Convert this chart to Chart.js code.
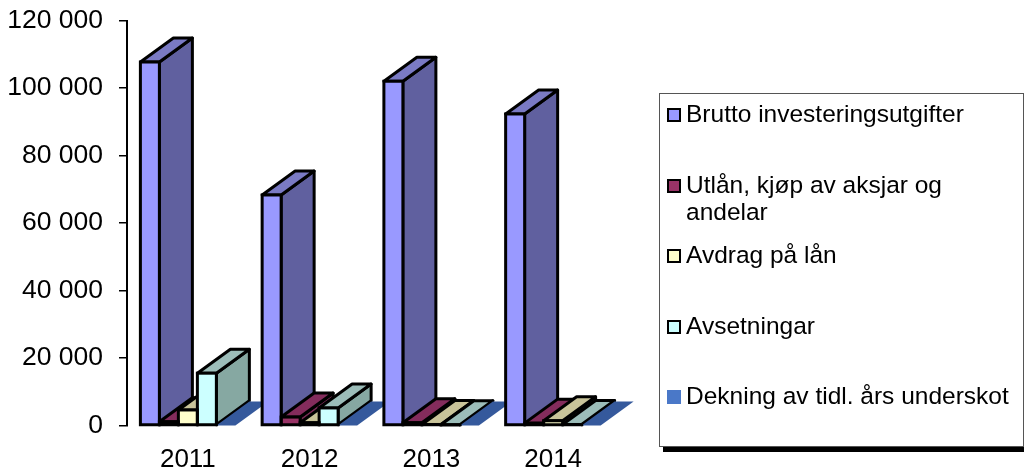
<!DOCTYPE html>
<html>
<head>
<meta charset="utf-8">
<title>Investeringar 2011-2014</title>
<script src="https://cdn.jsdelivr.net/npm/chart.js@4"></script>
<style>
  body { margin: 0; background: #fff; }
  canvas { display: block; }
</style>
</head>
<body>
<canvas id="investChart" width="1024" height="471"></canvas>
<script>
const years = ['2011', '2012', '2013', '2014'];
const brutto = [107700, 68300, 102000, 92300];
const utlan = [1100, 2500, 800, 700];
const avdrag = [4600, 800, 300, 1400];
const avsetningar = [15500, 5200, 200, 300];
const dekning = [0, 0, 0, 0];

const seriesNames = [
  ['Brutto investeringsutgifter'],
  ['Utlån, kjøp av aksjar og', 'andelar'],
  ['Avdrag på lån'],
  ['Avsetningar'],
  ['Dekning av tidl. års underskot']
];
const frontColors = ['#9999ff', '#993366', '#ffffcc', '#ccffff', '#4a78c8'];
const sideColors = ['#60609f', '#7a2a55', '#b5b08a', '#86a8a2', '#35599c'];
const topColors = ['#7a7ac4', '#842c5c', '#c9c49a', '#9cbdb9', '#35599c'];

// Depth of the fake 3D bars, in pixels
const depthX = 33;
const depthY = 24;

// Sides and tops go under the bars the library draws, left to right
const bars3d = {
  id: 'bars3d',
  beforeDatasetsDraw(chart) {
    const ctx = chart.ctx;
    ctx.save();
    ctx.lineJoin = 'round';
    years.forEach((year, i) => {
      chart.data.datasets.forEach((ds, d) => {
        const bar = chart.getDatasetMeta(d).data[i];
        const left = bar.x - bar.width / 2;
        const right = bar.x + bar.width / 2;
        const top = bar.y;
        const base = bar.base;
        const outlined = d < 4;
        ctx.lineWidth = 3;
        ctx.strokeStyle = '#000';

        ctx.fillStyle = sideColors[d];
        ctx.beginPath();
        ctx.moveTo(right, base);
        ctx.lineTo(right + depthX, base - depthY);
        ctx.lineTo(right + depthX, top - depthY);
        ctx.lineTo(right, top);
        ctx.closePath();
        ctx.fill();
        if (outlined) ctx.stroke();

        ctx.fillStyle = topColors[d];
        ctx.beginPath();
        ctx.moveTo(left, top);
        ctx.lineTo(left + depthX, top - depthY);
        ctx.lineTo(right + depthX, top - depthY);
        ctx.lineTo(right, top);
        ctx.closePath();
        ctx.fill();
        if (outlined) ctx.stroke();
      });
    });
    ctx.restore();
  },
  // The library insets and clamps bar borders, so thin bars lose theirs
  afterDatasetsDraw(chart) {
    const ctx = chart.ctx;
    ctx.save();
    ctx.lineWidth = 3;
    ctx.strokeStyle = '#000';
    years.forEach((year, i) => {
      for (let d = 0; d < 4; d++) {
        const bar = chart.getDatasetMeta(d).data[i];
        ctx.strokeRect(bar.x - bar.width / 2, bar.y, bar.width, bar.base - bar.y);
      }
    });
    ctx.restore();
  }
};

// Boxed legend with a drop shadow, like the original
const boxLegend = {
  id: 'boxLegend',
  afterDraw(chart) {
    const ctx = chart.ctx;
    const rowY = [115, 186, 256, 327, 397];
    ctx.save();
    ctx.fillStyle = '#000';
    ctx.fillRect(663, 446, 361, 6);
    ctx.fillStyle = '#fff';
    ctx.strokeStyle = '#555';
    ctx.lineWidth = 1;
    ctx.fillRect(659.5, 93.5, 364, 353);
    ctx.strokeRect(659.5, 93.5, 364, 353);

    ctx.font = '24.5px "Liberation Sans"';
    ctx.textBaseline = 'middle';
    seriesNames.forEach((lines, d) => {
      ctx.fillStyle = frontColors[d];
      ctx.fillRect(667, rowY[d] - 7, 14, 14);
      if (d < 4) {
        ctx.strokeStyle = '#000';
        ctx.lineWidth = 2;
        ctx.strokeRect(668, rowY[d] - 6, 12, 12);
      }
      ctx.fillStyle = '#000';
      lines.forEach((line, l) => ctx.fillText(line, 686, rowY[d] + l * 27));
    });
    ctx.restore();
  }
};

const allValues = [brutto, utlan, avdrag, avsetningar, dekning];

new Chart(document.getElementById('investChart'), {
  type: 'bar',
  data: {
    labels: years,
    datasets: allValues.map((values, d) => ({
      label: seriesNames[d].join(' '),
      data: values,
      backgroundColor: frontColors[d],
      borderWidth: 0,
      categoryPercentage: 0.78,
      barPercentage: 1
    }))
  },
  options: {
    responsive: false,
    animation: false,
    layout: { padding: { top: 20.5, right: 410, left: 0, bottom: 0 } },
    plugins: {
      legend: { display: false },
      tooltip: { enabled: false }
    },
    scales: {
      x: {
        grid: { display: false },
        border: { display: false },
        ticks: { color: '#000', padding: 11, font: { family: 'Liberation Sans', size: 26 } },
        afterFit(scale) { scale.height = 45.5; }
      },
      y: {
        min: 0,
        max: 120000,
        grid: { drawOnChartArea: false, tickLength: 8, color: '#000', lineWidth: 1.5 },
        border: { color: '#000', width: 2 },
        ticks: {
          stepSize: 20000,
          color: '#000',
          padding: 16,
          font: { family: 'Liberation Sans', size: 26.5 },
          callback: value => String(value).replace(/\B(?=(\d{3})+$)/g, ' ')
        },
        afterFit(scale) {
          scale.width = 127;
          // tick padding would otherwise push the plot top down
          scale.paddingTop = 0;
          scale.paddingBottom = 0;
        }
      }
    }
  },
  plugins: [bars3d, boxLegend]
});
</script>
</body>
</html>
